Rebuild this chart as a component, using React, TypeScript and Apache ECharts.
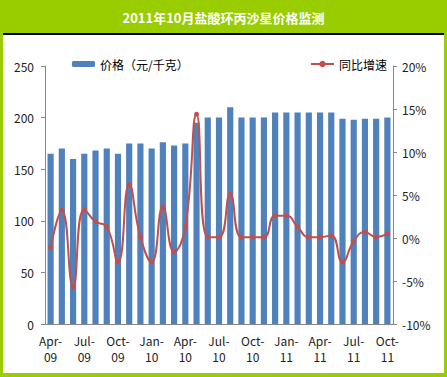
import React, { useEffect, useRef } from "react";
import * as echarts from "echarts";

const categories = [
  "Apr-\n09", "May-\n09", "Jun-\n09", "Jul-\n09", "Aug-\n09", "Sep-\n09", "Oct-\n09", "Nov-\n09", "Dec-\n09",
  "Jan-\n10", "Feb-\n10", "Mar-\n10", "Apr-\n10", "May-\n10", "Jun-\n10", "Jul-\n10", "Aug-\n10", "Sep-\n10",
  "Oct-\n10", "Nov-\n10", "Dec-\n10", "Jan-\n11", "Feb-\n11", "Mar-\n11", "Apr-\n11", "May-\n11", "Jun-\n11",
  "Jul-\n11", "Aug-\n11", "Sep-\n11", "Oct-\n11",
];
const priceValues = [
  165, 170, 160, 165, 168, 170, 165, 175, 175, 170, 176, 173, 175, 195, 200, 200, 210, 200, 200, 200,
  205, 205, 205, 205, 205, 205, 199, 198, 199, 199, 200,
];
const growthValues = [
  -1.1, 3.2, -5.7, 3.3, 1.9, 1.3, -2.8, 6.2, 0.1, -2.8, 3.6, -1.6, 1.3, 14.4, 0.1, 0.1, 5.1, 0.1, 0.1, 0.1,
  2.6, 2.6, 1.3, 0.1, 0.1, 0.3, -2.8, -0.4, 0.7, 0.1, 0.5,
];
const title = "2011年10月盐酸环丙沙星价格监测";
const seriesNames = ["价格（元/千克）", "同比增速"];

const GREEN = "#9ACD00";
const FONT = "'Noto Sans CJK SC', 'DejaVu Sans', sans-serif";

export default function App() {
  const ref = useRef<HTMLDivElement>(null);
  useEffect(() => {
    const chart = echarts.init(ref.current!, null, { renderer: "svg" });
    chart.setOption({
      animation: false,
      backgroundColor: "#ffffff",
      textStyle: { fontFamily: FONT },
      title: {
        text: title,
        left: "center",
        top: 6,
        textStyle: { color: "#ffffff", fontSize: 13, fontWeight: "bold", fontFamily: FONT },
      },
      graphic: [
        { type: "rect", shape: { x: 0, y: 0, width: 447, height: 33 }, style: { fill: GREEN }, z: -1 },
        { type: "rect", shape: { x: 0, y: 33, width: 447, height: 2 }, style: { fill: "#000000" }, z: -1 },
        { type: "rect", shape: { x: 0, y: 33, width: 3, height: 344 }, style: { fill: GREEN }, z: -1 },
        { type: "rect", shape: { x: 444, y: 33, width: 3, height: 344 }, style: { fill: GREEN }, z: -1 },
        { type: "rect", shape: { x: 0, y: 373, width: 447, height: 4 }, style: { fill: GREEN }, z: -1 },
      ],
      legend: [
        {
          data: [seriesNames[0]],
          left: 72,
          top: 58,
          padding: 0,
          itemWidth: 23,
          itemHeight: 6,
          textStyle: { fontSize: 12, color: "#000", fontFamily: FONT },
        },
        {
          data: [seriesNames[1]],
          left: 310,
          top: 58,
          padding: 0,
          itemWidth: 23,
          itemHeight: 8,
          textStyle: { fontSize: 12, color: "#000", fontFamily: FONT },
        },
      ],
      grid: { left: 45, right: 54, top: 66, bottom: 53 },
      xAxis: {
        type: "category",
        data: categories,
        boundaryGap: true,
        axisLine: { lineStyle: { color: "#888" } },
        axisTick: { interval: 2, length: 4, lineStyle: { color: "#888" } },
        axisLabel: { interval: 2, color: "#222", fontSize: 12, lineHeight: 16, margin: 8, fontFamily: FONT },
      },
      yAxis: [
        {
          type: "value",
          min: 0,
          max: 250,
          interval: 50,
          splitLine: { show: false },
          axisLine: { show: true, lineStyle: { color: "#888" } },
          axisTick: { show: true, length: 4, lineStyle: { color: "#888" } },
          axisLabel: { color: "#222", fontSize: 12, margin: 11, fontFamily: FONT },
        },
        {
          type: "value",
          min: -10,
          max: 20,
          interval: 5,
          splitLine: { show: false },
          axisLine: { show: true, lineStyle: { color: "#888" } },
          axisTick: { show: true, length: 4, lineStyle: { color: "#888" } },
          axisLabel: { color: "#222", fontSize: 12, margin: 9, formatter: (v: number) => `${v}%`, fontFamily: FONT },
        },
      ],
      series: [
        {
          name: seriesNames[0],
          type: "bar",
          data: priceValues,
          barWidth: "55%",
          itemStyle: { color: "#4F81BD" },
        },
        {
          name: seriesNames[1],
          type: "line",
          yAxisIndex: 1,
          data: growthValues,
          smooth: 0.5,
          symbol: "circle",
          symbolSize: 5,
          lineStyle: { color: "#C0504D", width: 2 },
          itemStyle: { color: "#C0504D" },
        },
      ],
    });
    return () => chart.dispose();
  }, []);
  return (
    <div
      ref={ref}
      style={{ position: "fixed", left: 0, top: 0, width: 447, height: 377 }}
    />
  );
}
